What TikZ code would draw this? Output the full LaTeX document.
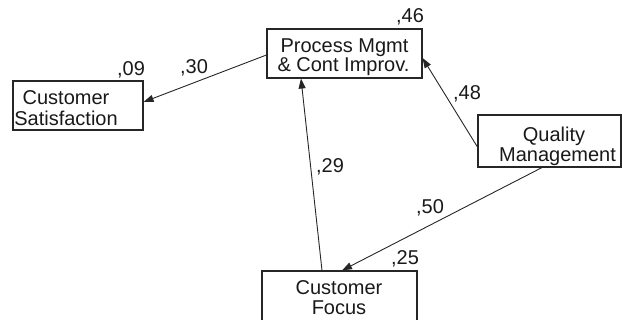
\documentclass[tikz,border=0pt]{standalone}
\usepackage{fontspec}
\setmainfont{Liberation Sans}
\usetikzlibrary{arrows.meta}
\begin{document}
\begin{tikzpicture}[x=1pt,y=-1pt,
  box/.style={draw=black!85,line width=1.1pt,rectangle,inner sep=0pt},
  txt/.style={inner sep=0pt,anchor=base,font=\fontsize{20}{21}\selectfont,text=black!90},
  conn/.style={draw=black!85,line width=0.9pt,-{Triangle[length=10pt,width=7pt]}}]
\useasboundingbox (0,0) rectangle (622,320);
% boxes
\node[box,minimum width=130pt,minimum height=49pt] (cs) at (78,105.5) {};
\node[box,minimum width=155pt,minimum height=49pt] (pm) at (344.5,53.5) {};
\node[box,minimum width=143pt,minimum height=52pt] (qm) at (549.5,141) {};
\node[box,minimum width=155pt,minimum height=70pt] (cf) at (339.5,306) {};
% box texts
\node[txt] (cs1) at (66,105) {Customer};
\node[txt] (cs2) at (66,126) {Satisfaction};
\node[txt] (pm1) at (344.5,53) {Process Mgmt};
\node[txt] (pm2) at (343.5,72) {\& Cont Improv.};
\node[txt] (qm1) at (554,142) {Quality};
\node[txt] (qm2) at (557.5,162) {Management};
\node[txt] (cf1) at (339,295) {Customer};
\node[txt] (cf2) at (339,315) {Focus};
% numbers
\node[txt] (n09) at (131,76) {,09};
\node[txt] (n30) at (194,74) {,30};
\node[txt] (n46) at (410,23) {,46};
\node[txt] (n48) at (467,100) {,48};
\node[txt] (n29) at (330,173) {,29};
\node[txt] (n50) at (430,214) {,50};
\node[txt] (n25) at (405,265) {,25};
% connectors
\draw[conn] ([yshift=-1.5pt]pm.west) -- ([yshift=3.5pt]cs.east);
\draw[conn] ([yshift=-6pt]qm.west) -- ([yshift=-4.5pt]pm.east);
\draw[conn] ([xshift=-17.5pt]cf.north) -- ([xshift=-43.5pt]pm.south);
\draw[conn] ([xshift=-7.5pt]qm.south) -- ([xshift=2.5pt]cf.north);
\end{tikzpicture}
\end{document}
